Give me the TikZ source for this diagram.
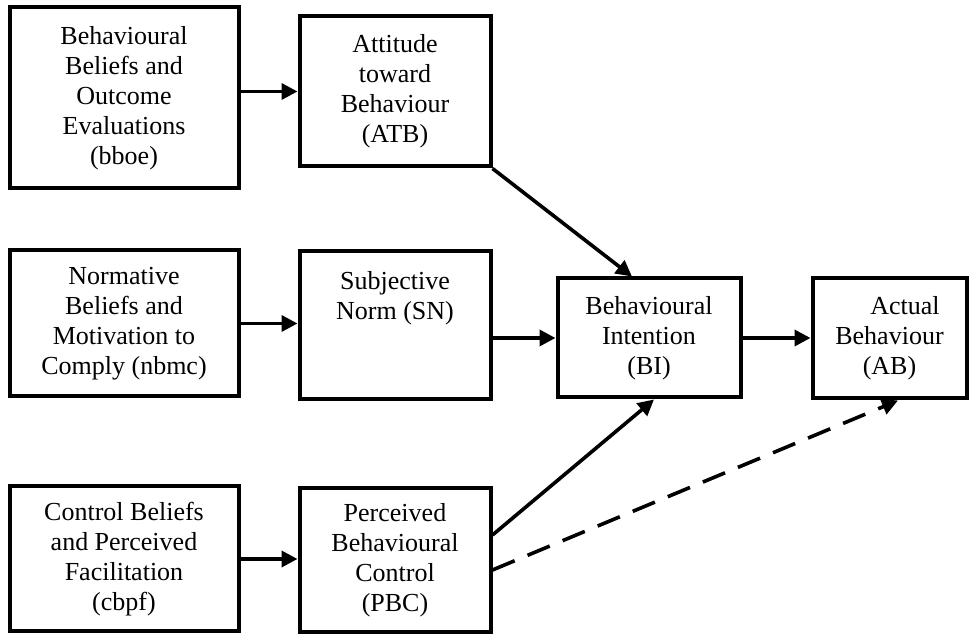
\documentclass[tikz,border=0pt]{standalone}
\usepackage{fontspec}
\setmainfont{Liberation Serif}
\usetikzlibrary{arrows.meta}
\tikzset{>={Triangle[length=8pt,width=8pt]}}
\tikzset{
  tpbbox/.style={draw, line width=2pt, align=center, inner sep=0pt,
    font=\fontsize{13}{15}\selectfont},
  link/.style={->, line width=1.8pt},
}

\begin{document}
\begin{tikzpicture}[x=0.5pt,y=-0.5pt]
		\useasboundingbox (0,0) rectangle (971,635);
		% beliefs
		\node [tpbbox, minimum width=114.5pt, minimum height=90.5pt] (bboe) at (124,98) {Behavioural\\Beliefs and\\Outcome\\Evaluations\\(bboe)};
		\node [tpbbox, minimum width=114.5pt, minimum height=73pt] (nbmc) at (124,323.5) {Normative\\Beliefs and\\Motivation to\\Comply (nbmc)};
		\node [tpbbox, minimum width=114.5pt, minimum height=72.5pt] (cbpf) at (124,559) {Control Beliefs\\and Perceived\\Facilitation\\(cbpf)};
		% constructs
		\node [tpbbox, minimum width=95.5pt, minimum height=75pt] (ATB) at (395,91.5) {Attitude\\toward\\Behaviour\\(ATB)};
		\node [tpbbox, minimum width=95.5pt, minimum height=74pt] (SN) at (395,325.5) {Subjective\\Norm (SN)\\~\\~};
		\node [tpbbox, minimum width=95.5pt, minimum height=72pt] (PBC) at (395,560) {Perceived\\Behavioural\\Control\\(PBC)};
		\node [tpbbox, minimum width=91.5pt, minimum height=59.5pt] (BI) at (649,338) {Behavioural\\Intention\\(BI)};
		\node [tpbbox, minimum width=77pt, minimum height=60pt] (AB) at (889.5,338.5) {\hspace*{15.5pt}Actual\\Behaviour\\(AB)};
		% arrows
		\draw [link] (bboe.east |- ATB.west) -- (ATB.west);
		\draw [link] (nbmc.east) -- (nbmc.east -| SN.west);
		\draw [link] (cbpf.east) -- (cbpf.east -| PBC.west);
		\draw [link] (SN.east |- BI.west) -- (BI.west);
		\draw [link] (BI.east) -- (BI.east -| AB.west);
		\draw [link] (ATB.south east) -- ([xshift=-8.5pt]BI.north);
		\draw [link] ([yshift=12.5pt]PBC.east) -- ([xshift=2.5pt]BI.south);
		\draw [link, dash pattern=on 12pt off 7pt] ([yshift=-5pt]PBC.east) -- ([xshift=4.25pt]AB.south);
\end{tikzpicture}
\end{document}
